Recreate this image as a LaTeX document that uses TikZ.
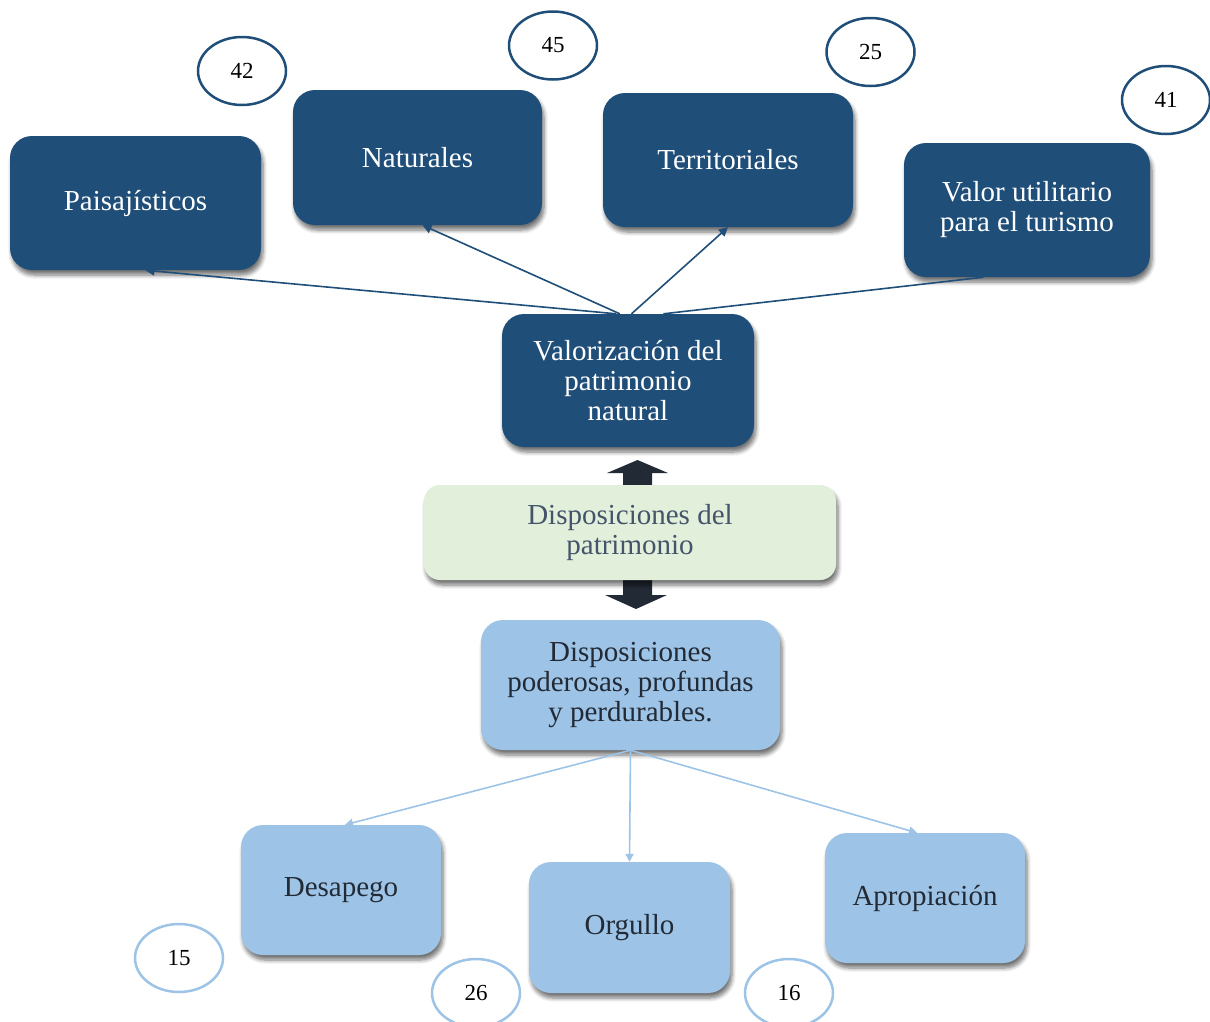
\documentclass[tikz,border=0pt]{standalone}
\usepackage{fontspec}
\setmainfont{Liberation Serif}
\usetikzlibrary{shapes.geometric,shadows.blur,arrows.meta}
\definecolor{dkblue}{HTML}{1F4E79}
\definecolor{ltblue}{HTML}{9DC3E6}
\definecolor{ltgreen}{HTML}{E2EFDA}
\definecolor{slate}{HTML}{44546A}
\definecolor{ink}{HTML}{222A35}
\tikzset{
  boxbase/.style={rectangle, rounded corners=22pt, inner sep=0pt, align=center,
    font=\fontsize{29}{30}\selectfont,
    blur shadow={shadow xshift=2pt, shadow yshift=-5pt, shadow blur steps=6, shadow blur radius=4pt, shadow opacity=55}},
  darkbox/.style={boxbase, fill=dkblue, text=white},
  lightbox/.style={boxbase, fill=ltblue, text=ink},
  greenbox/.style={boxbase, fill=ltgreen, text=slate, rounded corners=16pt},
  numdark/.style={ellipse, draw=dkblue, line width=2.5pt, fill=white, minimum width=88pt, minimum height=68pt, inner sep=0pt, font=\fontsize{23}{24}\selectfont},
  numlight/.style={numdark, draw=ltblue},
  darkarrow/.style={draw=dkblue, line width=1.6pt, -{Triangle[width=9pt,length=9pt]}},
  lightarrow/.style={draw=ltblue, line width=1.6pt, -{Triangle[width=8pt,length=8pt]}},
}
\begin{document}
\begin{tikzpicture}[x=1pt,y=-1pt]
\useasboundingbox (0,0) rectangle (1210,1021);
\clip (0,0) rectangle (1210,1021);
% top boxes
\node[darkbox, minimum width=251pt, minimum height=134pt] (pai) at (135.5,203) {Paisajísticos};
\node[darkbox, minimum width=249pt, minimum height=135pt] (nat) at (417.5,157.5) {Naturales};
\node[darkbox, minimum width=250pt, minimum height=134pt] (ter) at (728,160) {Territoriales};
\node[darkbox, minimum width=246pt, minimum height=134pt] (vut) at (1027,210) {Valor utilitario\\para el turismo};
\node[darkbox, minimum width=252pt, minimum height=133pt] (val) at (628,380.5) {Valorización del\\patrimonio\\natural};
% numbers top
\node[numdark] (n42) at (242,71) {42};
\node[numdark] (n45) at (553,45.5) {45};
\node[numdark] (n25) at (870.5,52) {25};
\node[numdark] (n41) at (1166,100) {41};
% block arrows
\fill[ink] (623,486) -- (623,473) -- (607,473) -- (637.5,460) -- (668,473) -- (652,473) -- (652,486) -- cycle;
\fill[ink] (623,578) -- (623,595) -- (605,595) -- (636,609) -- (667,595) -- (652,595) -- (652,578) -- cycle;
% middle
\node[greenbox, minimum width=412pt, minimum height=95pt] (dis) at (630,532.5) {Disposiciones del\\patrimonio};
\node[lightbox, minimum width=299pt, minimum height=130pt] (pod) at (630.5,685) {Disposiciones\\poderosas, profundas\\y perdurables.};
% bottom boxes
\node[lightbox, minimum width=200pt, minimum height=130pt] (des) at (341,890) {Desapego};
\node[lightbox, minimum width=201pt, minimum height=131pt] (org) at (629.5,927.5) {Orgullo};
\node[lightbox, minimum width=200pt, minimum height=130pt] (apr) at (925,898) {Apropiación};
% numbers bottom
\node[numlight] (n15) at (179,958) {15};
\node[numlight] (n26) at (476,993) {26};
\node[numlight] (n16) at (789,993) {16};
% connectors top
\draw[darkarrow] (val.100) -- ([xshift=10pt]pai.south);
\draw[darkarrow] (val.97) -- ([xshift=5pt]nat.south);
\draw[darkarrow] (val.87) -- (ter.south);
\draw[draw=dkblue, line width=1.6pt] (val.62) -- (vut.-123);
% connectors bottom
\draw[lightarrow] (pod.south) -- ([xshift=4pt]des.north);
\draw[lightarrow] (pod.south) -- (org.north);
\draw[lightarrow] (pod.south) -- ([xshift=-8pt]apr.north);
\end{tikzpicture}
\end{document}
